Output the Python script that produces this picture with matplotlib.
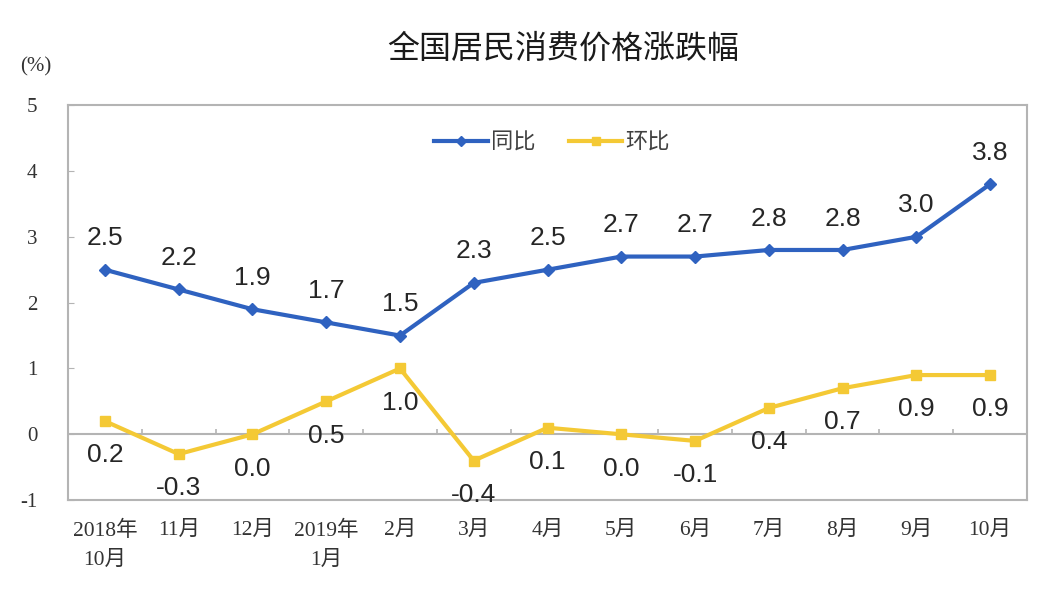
import matplotlib
matplotlib.use("Agg")
import matplotlib.pyplot as plt

# 数据
月份 = ["2018年\n10月", "11月", "12月", "2019年\n1月", "2月", "3月", "4月",
        "5月", "6月", "7月", "8月", "9月", "10月"]
同比 = [2.5, 2.2, 1.9, 1.7, 1.5, 2.3, 2.5, 2.7, 2.7, 2.8, 2.8, 3.0, 3.8]
环比 = [0.2, -0.3, 0.0, 0.5, 1.0, -0.4, 0.1, 0.0, -0.1, 0.4, 0.7, 0.9, 0.9]

COR_AZUL = "#2F62C0"
COR_AMARELO = "#F4C935"
CINZA = "#B4B4B4"
SERIF = ["Liberation Serif", "Noto Sans CJK SC"]
SANS = ["Liberation Sans", "Noto Sans CJK SC"]

plt.rcParams["font.family"] = ["Noto Sans CJK SC", "DejaVu Sans"]

fig = plt.figure(figsize=(10.58, 5.94), dpi=100)
ax = fig.add_axes([0.0643, 0.158, 0.9064, 0.665])

x = list(range(len(月份)))
ax.plot(x, 同比, color=COR_AZUL, lw=3, marker="D", ms=6.5, label="同比")
ax.plot(x, 环比, color=COR_AMARELO, lw=3, marker="s", ms=6.5, label="环比")

for i, v in enumerate(同比):
    ax.annotate(f"{v:.1f}", (i, v), xytext=(0, 14), textcoords="offset points",
                ha="center", va="bottom", fontsize=19, family=SANS, color="#262626")
for i, v in enumerate(环比):
    ax.annotate(f"{v:.1f}", (i, v), xytext=(0, -16), textcoords="offset points",
                ha="center", va="top", fontsize=19, family=SANS, color="#262626")

# linha do zero com pequenas marcas entre categorias
ax.axhline(0, color=CINZA, lw=1.5, zorder=1)
ax.vlines([i + 0.5 for i in x[:-1]], 0, 0.08, color=CINZA, lw=1.2, zorder=1)

ax.set_xlim(-0.5, len(月份) - 0.5)
ax.set_ylim(-1, 5)
ax.set_yticks(range(-1, 6))
ax.set_xticks(x)
ax.set_xticklabels(月份, family=SERIF, fontsize=15.5, color="#333333", linespacing=1.7)
ax.set_yticklabels([str(t) for t in range(-1, 6)], family=SERIF, fontsize=15, color="#333333")
ax.tick_params(axis="x", length=0, pad=15)
ax.tick_params(axis="y", length=4, direction="in", color=CINZA, pad=22)
for sp in ax.spines.values():
    sp.set_color(CINZA)
    sp.set_linewidth(1.5)

leg = ax.legend(loc="upper center", bbox_to_anchor=(0.505, 0.985), ncol=2, frameon=False,
                fontsize=16, handlelength=2.4, columnspacing=1.5, handletextpad=0.15,
                markerscale=0.8)
for t in leg.get_texts():
    t.set_color("#404040")

fig.text(0.532, 0.918, "全国居民消费价格涨跌幅", ha="center", va="center", fontsize=23, color="#1a1a1a")
fig.text(0.034, 0.887, "(%)", ha="center", va="center", family=SERIF, fontsize=15, color="#333333")

fig.savefig("out.png", dpi=100, facecolor="white")
